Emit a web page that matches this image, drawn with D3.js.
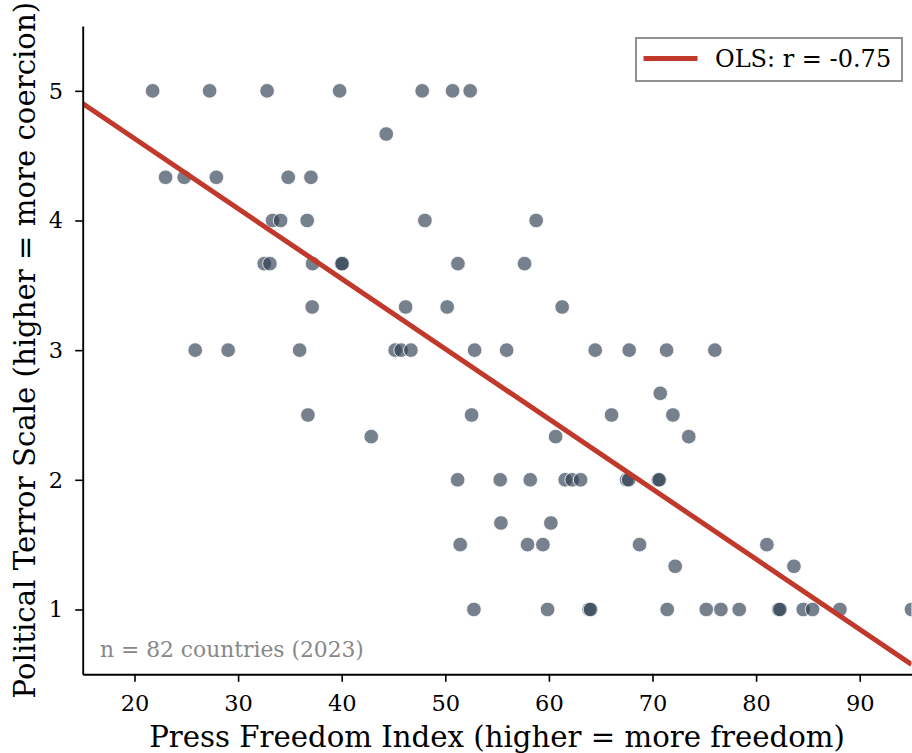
<!DOCTYPE html>
<html>
<head>
<meta charset="utf-8">
<script src="https://cdn.jsdelivr.net/npm/d3@7/dist/d3.min.js"></script>
<style>
  html, body { margin: 0; padding: 0; background: #fff; }
  svg { display: block; }
  text { font-family: "DejaVu Serif", serif; }
</style>
</head>
<body>
<svg id="chart" width="912" height="753"></svg>
<script>
// ---- Data ----
const pressFreedom = [
  21.75, 27.25, 32.8, 39.8, 47.77, 50.7, 52.4,
  44.3,
  23.0, 24.8, 27.9, 34.84, 37.03,
  33.33, 34.1, 36.67, 48.03, 58.77,
  32.52, 33.07, 37.19, 40.0, 40.04, 51.22, 57.65,
  37.15, 46.17, 50.18, 61.28,
  25.86, 29.04, 35.94, 45.16, 45.74, 46.68, 52.83, 55.92, 64.47, 67.75, 71.36, 76.02,
  70.75,
  36.74, 52.54, 66.05, 71.97,
  42.85, 60.65, 73.5,
  51.19, 55.3, 58.2, 61.57, 62.25, 63.06, 67.5, 67.7, 70.55, 70.65,
  55.37, 60.19,
  51.44, 57.94, 59.42, 68.75, 81.04,
  72.19, 83.65,
  52.76, 59.87, 63.88, 64.02, 71.42, 75.19, 76.6, 78.37, 82.18, 82.3, 84.55, 85.45, 88.09, 95.0
];
const terrorScale = [
  5, 5, 5, 5, 5, 5, 5,
  4.667,
  4.333, 4.333, 4.333, 4.333, 4.333,
  4, 4, 4, 4, 4,
  3.667, 3.667, 3.667, 3.667, 3.667, 3.667, 3.667,
  3.333, 3.333, 3.333, 3.333,
  3, 3, 3, 3, 3, 3, 3, 3, 3, 3, 3, 3,
  2.667,
  2.5, 2.5, 2.5, 2.5,
  2.333, 2.333, 2.333,
  2, 2, 2, 2, 2, 2, 2, 2, 2, 2,
  1.667, 1.667,
  1.5, 1.5, 1.5, 1.5, 1.5,
  1.333, 1.333,
  1, 1, 1, 1, 1, 1, 1, 1, 1, 1, 1, 1, 1, 1
];
const xTicks = [20, 30, 40, 50, 60, 70, 80, 90];
const yTicks = [1, 2, 3, 4, 5];
const xDomain = [15, 95];
const yDomain = [0.5, 5.5];
const xLabel = "Press Freedom Index (higher = more freedom)";
const yLabel = "Political Terror Scale (higher = more coercion)";
const legendLabel = "OLS: r = -0.75";
const noteLabel = "n = 82 countries (2023)";

(function () {
  const svg = d3.select("#chart");
  const pL = 82.7, pR = 911.5, pT = 26, pB = 674.3;

  const x = d3.scaleLinear().domain(xDomain).range([pL, pR]);
  const y = d3.scaleLinear().domain(yDomain).range([pB, pT]);

  // OLS fit
  const n = pressFreedom.length;
  const mx = d3.mean(pressFreedom), my = d3.mean(terrorScale);
  let sxy = 0, sxx = 0;
  for (let i = 0; i < n; i++) {
    sxy += (pressFreedom[i] - mx) * (terrorScale[i] - my);
    sxx += (pressFreedom[i] - mx) ** 2;
  }
  const slope = sxy / sxx, intercept = my - slope * mx;

  svg.append("defs").append("clipPath").attr("id", "plotclip")
    .append("rect").attr("x", pL).attr("y", pT)
    .attr("width", pR - pL).attr("height", pB - pT);

  const plot = svg.append("g").attr("clip-path", "url(#plotclip)");

  plot.selectAll("circle.pt")
    .data(d3.range(n))
    .join("circle")
    .attr("class", "pt")
    .attr("cx", i => x(pressFreedom[i]))
    .attr("cy", i => y(terrorScale[i]))
    .attr("r", 7.3)
    .attr("fill", "#2c3e50")
    .attr("fill-opacity", 0.65)
    .attr("stroke", "#ffffff")
    .attr("stroke-width", 0.8);

  plot.append("path")
    .attr("d", d3.line().x(d => x(d)).y(d => y(intercept + slope * d))(xDomain))
    .attr("stroke", "#c0392b")
    .attr("stroke-width", 5)
    .attr("fill", "none");

  const xAxis = d3.axisBottom(x).tickValues(xTicks).tickFormat(d3.format("d"))
    .tickSizeInner(7.5).tickSizeOuter(0).tickPadding(13);
  const yAxis = d3.axisLeft(y).tickValues(yTicks).tickFormat(d3.format("d"))
    .tickSizeInner(7.5).tickSizeOuter(0).tickPadding(12);

  const gx = svg.append("g").attr("transform", `translate(0,${pB})`).call(xAxis);
  const gy = svg.append("g").attr("transform", `translate(${pL},0)`).call(yAxis);
  [gx, gy].forEach(g => {
    g.select(".domain").attr("stroke", "#000").attr("stroke-width", 1.9);
    g.selectAll(".tick line").attr("stroke", "#000").attr("stroke-width", 1.6);
    g.selectAll(".tick text").attr("fill", "#000")
      .style("font-family", "'DejaVu Serif', serif").style("font-size", "22.5px");
  });

  svg.append("text")
    .attr("x", (pL + pR) / 2).attr("y", 746.5)
    .attr("text-anchor", "middle")
    .style("font-size", "29.2px").attr("fill", "#000")
    .text(xLabel);
  svg.append("text")
    .attr("transform", `translate(35,${(pT + pB) / 2}) rotate(-90)`)
    .attr("text-anchor", "middle")
    .style("font-size", "29.2px").attr("fill", "#000")
    .text(yLabel);

  svg.append("text")
    .attr("x", 100).attr("y", 657)
    .style("font-size", "21.8px").attr("fill", "#888888")
    .text(noteLabel);

  const lg = svg.append("g");
  lg.append("rect")
    .attr("x", 636).attr("y", 38).attr("width", 266).attr("height", 43)
    .attr("fill", "#fff").attr("stroke", "#8c8c8c").attr("stroke-width", 1.9);
  lg.append("line")
    .attr("x1", 643.5).attr("x2", 697.5).attr("y1", 58.5).attr("y2", 58.5)
    .attr("stroke", "#c0392b").attr("stroke-width", 5);
  lg.append("text")
    .attr("x", 715).attr("y", 66.7)
    .style("font-size", "24px").attr("fill", "#000")
    .text(legendLabel);
})();
</script>
</body>
</html>
